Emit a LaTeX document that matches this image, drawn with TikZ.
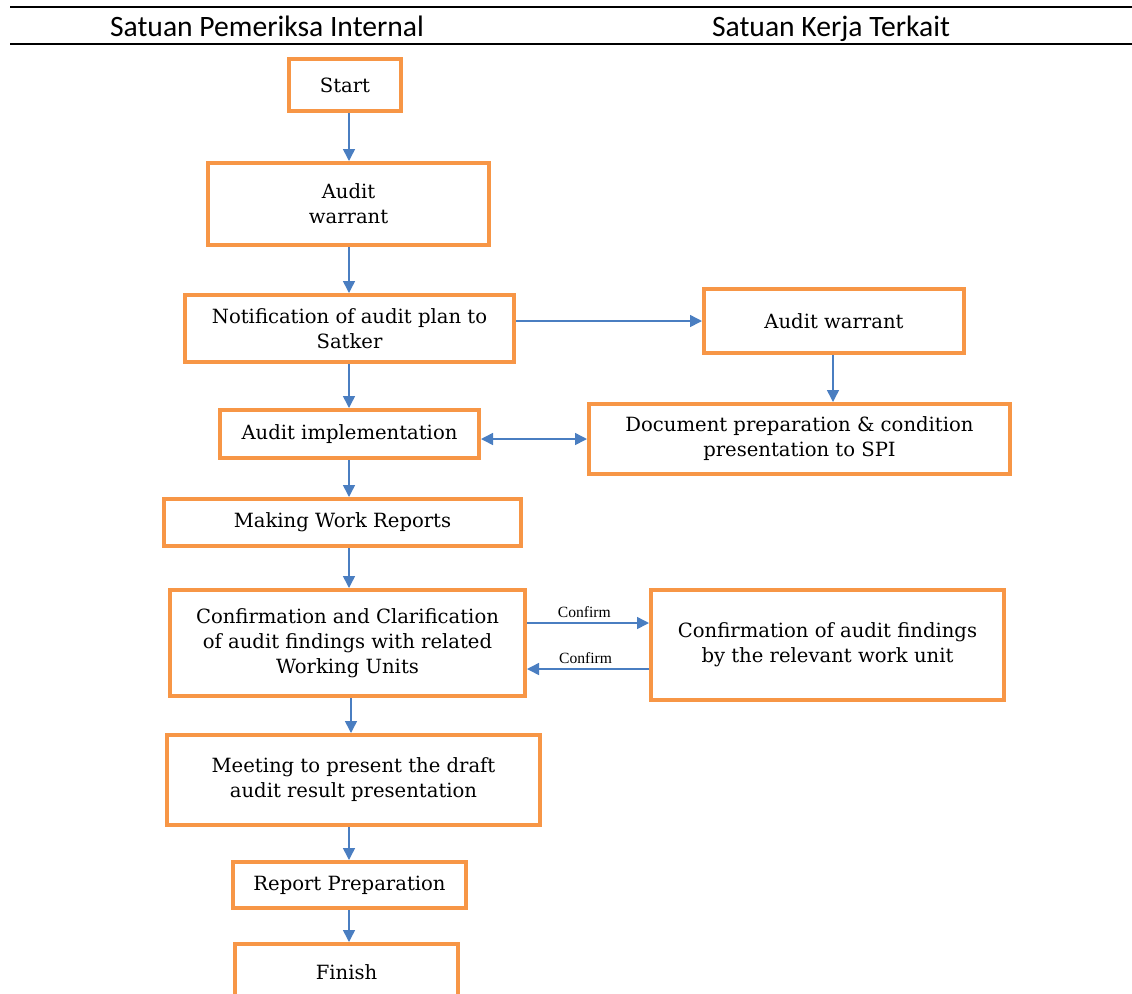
\documentclass[tikz,border=0pt]{standalone}
\usepackage{fontspec}
\setmainfont{DejaVu Serif}
\newfontfamily\headfont{Carlito}
\newfontfamily\labelfont{Liberation Serif}
\usepackage{xcolor}
\usetikzlibrary{arrows.meta,positioning,calc}

\definecolor{boxorange}{RGB}{247,150,70}
\definecolor{arrowblue}{RGB}{74,126,193}

\begin{document}
\begin{tikzpicture}[
  x=0.5pt,y=-0.5pt,
  >={Triangle[length=6pt,width=6pt]},
  font=\fontsize{9.8}{12.5}\selectfont,
  box/.style={draw=boxorange, line width=2pt, align=center, inner sep=2pt},
  arrow/.style={->, draw=arrowblue, fill=arrowblue, line width=0.75pt},
  head/.style={font=\headfont\fontsize{14.8}{17}\selectfont, anchor=base},
  rule/.style={line width=1.3pt}
]
\useasboundingbox (0,0) rectangle (1132,993);

% Table header.
\draw[rule] (10,7) -- (1132,7);
\draw[rule] (10,44) -- (1132,44);
\node[head] (colspi) at (267,36) {Satuan Pemeriksa Internal};
\node[head] (colsatker) at (831,36) {Satuan Kerja Terkait};

% Internal audit unit.
\node[box, minimum width=56pt, minimum height=26pt] (start) at (345,85) {Start};
\node[box, minimum width=140.5pt, minimum height=41pt] (warrant) at (348.5,204) {Audit\\warrant};
\node[box, minimum width=164.5pt, minimum height=33.5pt] (notify) at (349.5,328.5) {Notification of audit plan to\\Satker};
\node[box, minimum width=129.5pt, minimum height=24pt] (implement) at (349.5,434) {Audit implementation};
\node[box, minimum width=178.5pt, minimum height=23.5pt] (reports) at (342.5,522.5) {Making Work Reports};
\node[box, minimum width=177.5pt, minimum height=53pt] (clarify) at (347.5,643) {Confirmation and Clarification\\of audit findings with related\\Working Units};
\node[box, minimum width=186.5pt, minimum height=45pt] (meeting) at (353.5,780) {Meeting to present the draft\\audit result presentation};
\node[box, minimum width=116.5pt, minimum height=23pt] (reportprep) at (349.5,885) {Report Preparation};
\node[box, minimum width=111.5pt, minimum height=28pt] (finish) at (346.5,972) {Finish};

% Related work unit.
\node[box, minimum width=130pt, minimum height=32pt] (warranttwo) at (834,321) {Audit warrant};
\node[box, minimum width=210.5pt, minimum height=35pt] (docprep) at (799.5,439) {Document preparation \& condition\\presentation to SPI};
\node[box, minimum width=176.5pt, minimum height=55pt] (findings) at (827.5,645) {Confirmation of audit findings\\by the relevant work unit};

% Main flow.
\coordinate (spine) at (349,0);
\draw[arrow] (start.south -| spine) -- (warrant.north -| spine);
\draw[arrow] (warrant.south -| spine) -- (notify.north -| spine);
\draw[arrow] (notify.south -| spine) -- (implement.north -| spine);
\draw[arrow] (implement.south -| spine) -- (reports.north -| spine);
\draw[arrow] (reports.south -| spine) -- (clarify.north -| spine);
\draw[arrow] ([xshift=1pt]clarify.south -| spine) -- ([xshift=1pt]meeting.north -| spine);
\draw[arrow] (meeting.south -| spine) -- (reportprep.north -| spine);
\draw[arrow] (reportprep.south -| spine) -- (finish.north -| spine);

% Exchanges with the work unit.
\draw[arrow] (notify.east |- warranttwo.west) -- (warranttwo.west);
\draw[arrow] ([xshift=-0.5pt]warranttwo.south) -- ([xshift=-0.5pt]warranttwo.south |- docprep.north);
\draw[arrow, <->] (implement.east |- docprep.west) -- (docprep.west);
\draw[arrow] ([yshift=10pt]clarify.east) -- ([yshift=10pt]clarify.east -| findings.west)
  node[pos=.47, above=-1pt, text=black, font=\labelfont\fontsize{7.8}{9}\selectfont] {Confirm};
\draw[arrow] ([yshift=-13pt]clarify.east -| findings.west) -- ([yshift=-13pt]clarify.east)
  node[pos=.52, above=-1pt, text=black, font=\labelfont\fontsize{7.8}{9}\selectfont] {Confirm};
\end{tikzpicture}
\end{document}
